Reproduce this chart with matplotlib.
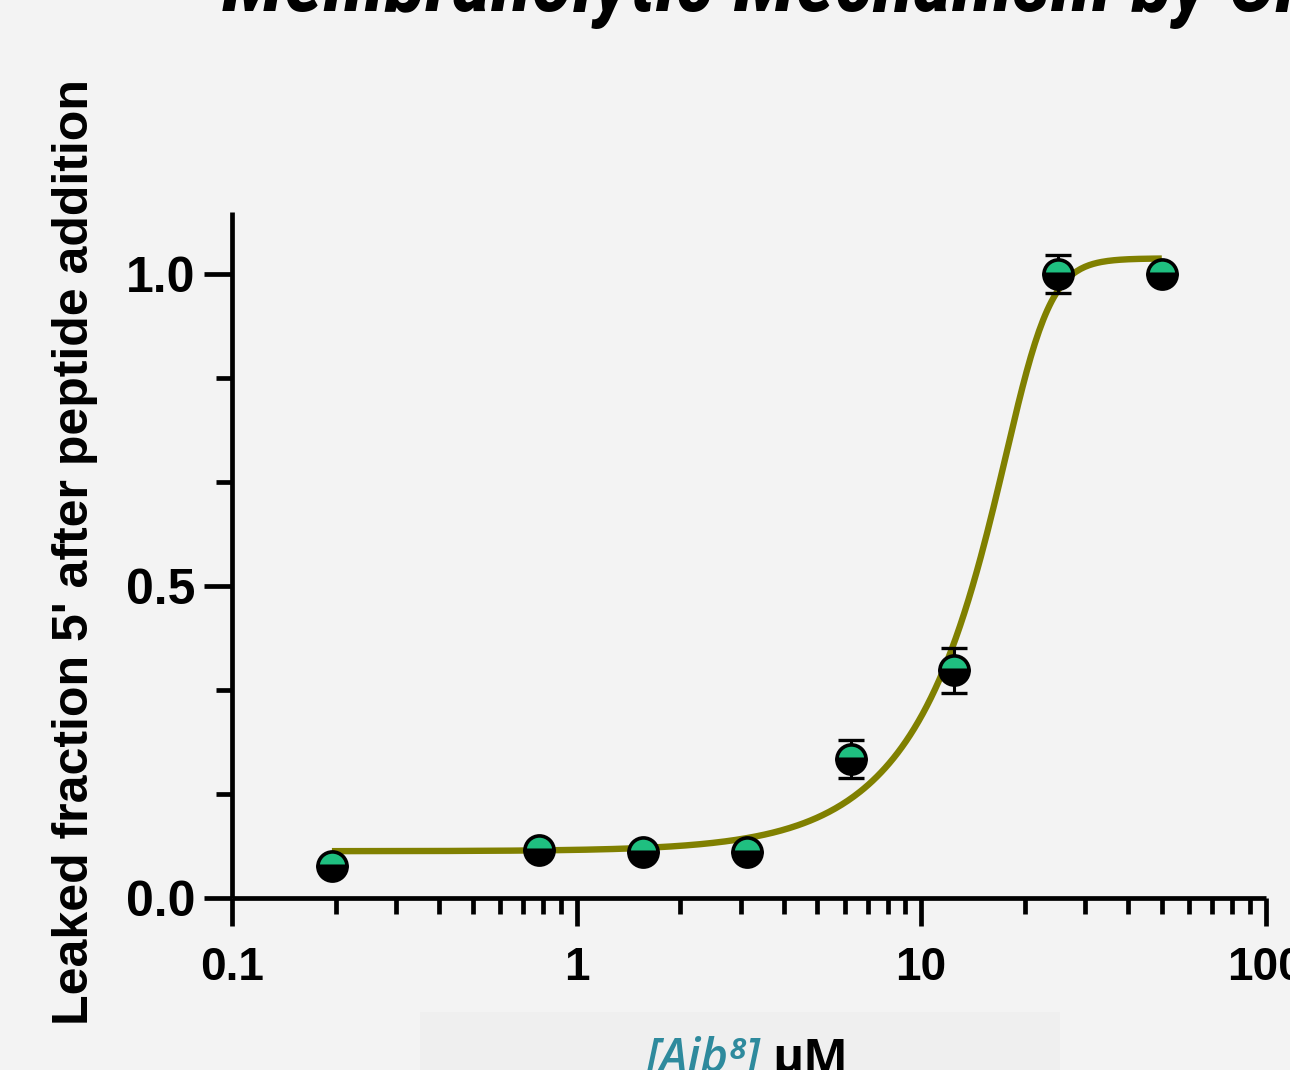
import numpy as np
import matplotlib
matplotlib.use("Agg")
import matplotlib.pyplot as plt
from matplotlib.ticker import FixedLocator, FixedFormatter, MultipleLocator, LogLocator, NullFormatter
from matplotlib.patches import Rectangle

# Peptide concentrations (uM) and leaked fraction 5 min after addition (mean, error)
conc = [0.195, 0.78, 1.56, 3.125, 6.25, 12.5, 25.0, 50.0]
leak = [0.051, 0.077, 0.074, 0.074, 0.223, 0.365, 1.000, 1.000]
err = [0.008, 0.008, 0.008, 0.008, 0.030, 0.036, 0.030, 0.008]

# Asymmetric (5PL) dose-response fit parameters
fit_bottom = 0.075
fit_top = 1.025
fit_ec = 21.0
fit_hill = 8.0
fit_asym = 0.25

x_ticks = [0.1, 1, 10, 100]
x_tick_labels = ["0.1", "1", "10", "100"]
y_ticks = [0.0, 0.5, 1.0]
y_tick_labels = ["0.0", "0.5", "1.0"]

title_text = "Membranolytic Mechanism by Cl"
ylabel_text = "Leaked fraction 5' after peptide addition"

BG = "#f3f3f3"
GREEN = "#1fbf80"
OLIVE = "#808000"
TEAL = "#2e8a9d"

fig = plt.figure(figsize=(12.9, 10.7), dpi=100, facecolor=BG)
W, H = 1290, 1070
ax = fig.add_axes([232 / W, 172 / H, 1033.5 / W, 686.4 / H])
ax.set_facecolor("none")

# fitted curve
xf = np.logspace(np.log10(conc[0]), np.log10(conc[-1]), 400)
yf = fit_bottom + (fit_top - fit_bottom) / (1 + (fit_ec / xf) ** fit_hill) ** fit_asym
ax.plot(xf, yf, color=OLIVE, lw=4.6, zorder=2, solid_capstyle="butt")

# error bars and half-filled markers
ax.errorbar(conc, leak, yerr=err, fmt="none", ecolor="black", elinewidth=2.2,
            capsize=9.5, capthick=2.4, zorder=3)
ax.plot(conc, leak, linestyle="none", marker="o", markersize=21,
        fillstyle="top", markerfacecolor=GREEN, markerfacecoloralt="black",
        markeredgecolor="black", markeredgewidth=2.6, zorder=4)

ax.set_xscale("log")
ax.set_xlim(0.1, 100)
ax.set_ylim(0, 1.1)

ax.xaxis.set_major_locator(FixedLocator(x_ticks))
ax.xaxis.set_major_formatter(FixedFormatter(x_tick_labels))
ax.xaxis.set_minor_locator(LogLocator(base=10, subs=np.arange(2, 10)))
ax.xaxis.set_minor_formatter(NullFormatter())
ax.yaxis.set_major_locator(FixedLocator(y_ticks))
ax.yaxis.set_major_formatter(FixedFormatter(y_tick_labels))
ax.yaxis.set_minor_locator(MultipleLocator(0.5 / 3))

for s in ("top", "right"):
    ax.spines[s].set_visible(False)
for s in ("left", "bottom"):
    ax.spines[s].set_linewidth(3.4)
    ax.spines[s].set_capstyle("butt")

ax.tick_params(axis="both", which="major", direction="out", length=20.5, width=3.4, color="black")
ax.tick_params(axis="both", which="minor", direction="out", length=11.5, width=3.4, color="black")
ax.tick_params(axis="x", which="major", pad=14)
ax.tick_params(axis="y", which="major", pad=6)
for lab in ax.get_yticklabels():
    lab.set_fontfamily("Liberation Sans")
    lab.set_fontweight("bold")
    lab.set_fontsize(36)
for lab in ax.get_xticklabels():
    lab.set_fontfamily("Liberation Sans")
    lab.set_fontweight("bold")
    lab.set_fontsize(33)

# y label
fig.text(75 / W, 1 - 552 / H, ylabel_text, rotation=90, ha="center", va="center",
         family="Liberation Sans", weight="bold", size=36)

# title (partly off the top edge)
fig.text(222 / W, 1 - 11 / H, title_text, ha="left", va="baseline",
         family=["Roboto Condensed", "DejaVu Sans Condensed", "Liberation Sans Narrow", "DejaVu Sans"],
         stretch="condensed", weight="bold", style="italic", size=61)

# x label on a light panel
fig.patches.append(Rectangle((420 / W, 0), 640 / W, 58 / H, transform=fig.transFigure,
                             facecolor="#efefef", edgecolor="none", zorder=0))
fig.text(760 / W, -2 / H, "[Aib\u2078]", ha="right", va="baseline", color=TEAL,
         family=["Open Sans", "DejaVu Sans"], style="italic", weight="semibold", size=34)
fig.text(772 / W, -2 / H, "\u00b5M", ha="left", va="baseline", color="black",
         family=["Open Sans", "DejaVu Sans"], weight="bold", size=34)

fig.savefig("out.png", dpi=100, facecolor=BG)
